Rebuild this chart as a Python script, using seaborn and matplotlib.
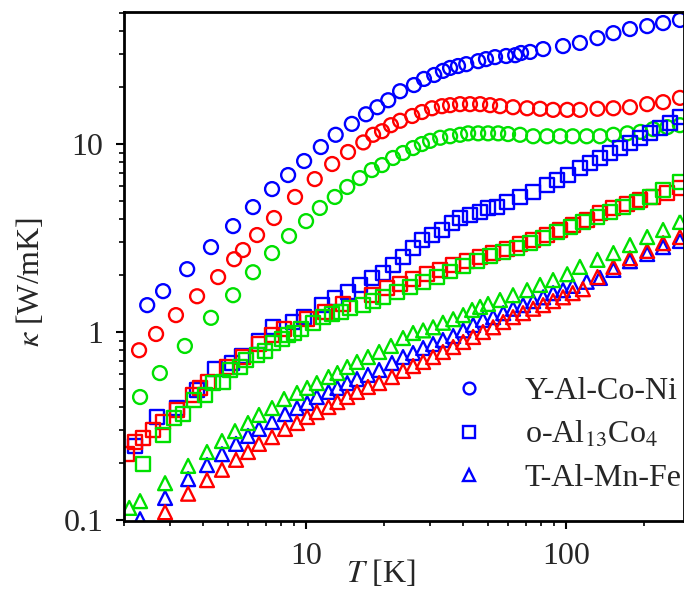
import numpy as np
import pandas as pd
import matplotlib
matplotlib.use('Agg')
import matplotlib.pyplot as plt
import matplotlib.ticker as mticker
from matplotlib.lines import Line2D
import seaborn as sns

# Thermal conductivity vs temperature, three directions (blue, red, green) per material
# Y-Al-Co-Ni (circles)
T_ycn_b = [2.45, 2.82, 3.49, 4.31, 5.24, 6.25, 7.40, 8.53, 9.83, 11.4, 13.0, 15.0, 17.0, 18.8, 20.7, 23.0,
           26.0, 28.4, 31.1, 33.6, 35.8, 38.4, 41.3, 45.9, 49.2, 53.3, 58.8, 63.7, 67.1, 72.7, 81.6,
           97.3, 113, 132, 152, 176, 205, 236, 274]
k_ycn_b = [1.39, 1.65, 2.16, 2.83, 3.66, 4.62, 5.76, 6.84, 8.12, 9.64, 11.2, 12.8, 14.4, 15.7, 17.1, 19.1,
           20.6, 22.2, 23.3, 24.5, 25.4, 26.0, 26.6, 27.6, 28.3, 29.0, 29.4, 29.7, 30.5, 30.9, 32.0,
           33.2, 34.5, 36.6, 38.9, 40.9, 42.4, 44.0, 45.7]
T_ycn_r = [2.28, 2.65, 3.16, 3.81, 4.59, 5.29, 5.72, 6.48, 7.53, 9.07, 10.8, 12.6, 14.5, 16.6, 18.1, 19.6,
           21.2, 23.0, 25.6, 27.9, 30.5, 33.3, 35.8, 39.1, 42.7, 46.7, 51.0, 55.7, 62.5, 70.8, 79.4,
           89.1, 101, 113, 132, 152, 176, 205, 236, 274]
k_ycn_r = [0.80, 0.976, 1.23, 1.55, 1.96, 2.44, 2.73, 3.28, 4.04, 5.23, 6.51, 7.83, 9.07, 10.2, 11.2, 11.7,
           12.6, 13.3, 14.1, 14.8, 15.5, 15.9, 16.1, 16.3, 16.3, 16.3, 16.1, 15.9, 15.7, 15.5, 15.4,
           15.2, 15.2, 15.2, 15.4, 15.5, 15.7, 16.3, 16.7, 17.6]
T_ycn_g = [2.30, 2.74, 3.42, 4.31, 5.24, 6.25, 7.40, 8.60, 10.0, 11.3, 12.9, 14.4, 16.1, 17.9, 19.6, 21.6,
           23.6, 25.8, 27.9, 30.0, 32.8, 35.8, 39.1, 42.0, 45.9, 50.1, 54.8, 59.8, 66.5, 74.7, 84.5,
           94.8, 106, 120, 135, 152, 172, 193, 216, 245, 274]
k_ycn_g = [0.451, 0.605, 0.843, 1.19, 1.57, 2.08, 2.63, 3.24, 3.89, 4.57, 5.23, 5.91, 6.59, 7.27, 7.73, 8.43,
           8.96, 9.52, 10.0, 10.4, 10.8, 11.0, 11.2, 11.4, 11.4, 11.4, 11.4, 11.3, 11.2, 11.0, 11.0,
           11.0, 11.0, 11.0, 11.0, 11.2, 11.4, 11.6, 12.0, 12.3, 12.6]

# o-Al13Co4 (squares)
T_alco_b = [2.20, 2.67, 3.19, 3.81, 4.47, 5.19, 5.67, 6.59, 7.47, 8.91, 9.83, 11.5, 12.9, 14.5, 16.1, 17.9,
            19.8, 21.6, 23.6, 25.8, 27.9, 30.5, 33.3, 36.5, 39.1, 42.7, 46.7, 50.1, 54.3, 59.3, 66.5,
            74.7, 84.5, 92.3, 102, 113, 124, 135, 148, 161, 176, 193, 210, 230, 251, 274]
k_alco_b = [0.248, 0.353, 0.394, 0.491, 0.636, 0.684, 0.745, 0.896, 1.06, 1.13, 1.20, 1.39, 1.52, 1.63, 1.78, 1.94,
            2.06, 2.27, 2.50, 2.80, 3.09, 3.28, 3.49, 3.80, 4.04, 4.19, 4.35, 4.57, 4.62, 4.91, 5.23,
            5.55, 6.05, 6.44, 6.84, 7.45, 7.93, 8.43, 8.96, 9.52, 10.1, 10.8, 11.4, 12.2, 12.9, 13.9]
T_alco_r = [2.05, 2.20, 2.36, 2.58, 2.82, 3.19, 3.68, 3.91, 4.20, 4.97, 5.72, 6.59, 7.40, 8.23, 10.1, 11.8,
            13.9, 17.9, 20.5, 23.0, 25.8, 29.2, 32.8, 36.8, 41.6, 46.7, 52.4, 59.3, 66.5, 74.7, 84.5,
            94.8, 106, 120, 135, 152, 172, 193, 216, 245, 274]
k_alco_r = [0.224, 0.260, 0.273, 0.301, 0.332, 0.385, 0.462, 0.504, 0.542, 0.651, 0.736, 0.863, 0.964, 1.04, 1.17, 1.28,
            1.41, 1.57, 1.71, 1.80, 1.91, 2.03, 2.14, 2.27, 2.39, 2.50, 2.63, 2.76, 2.94, 3.09, 3.28,
            3.49, 3.71, 3.94, 4.30, 4.57, 4.80, 5.04, 5.23, 5.49, 5.83]
T_alco_g = [2.36, 2.82, 3.11, 3.37, 3.71, 4.09, 4.39, 4.79, 5.10, 5.57, 5.88, 6.48, 6.95, 7.47, 8.08, 8.53,
            8.99, 9.57, 10.6, 11.6, 12.6, 13.6, 14.8, 16.6, 18.1, 19.8, 22.4, 25.1, 28.2, 31.9, 35.8,
            40.2, 45.5, 51.0, 57.3, 64.8, 72.7, 81.6, 92.3, 104, 116, 132, 148, 166, 188, 210, 236, 274]
k_alco_g = [0.199, 0.283, 0.349, 0.366, 0.435, 0.462, 0.535, 0.542, 0.628, 0.651, 0.710, 0.755, 0.792, 0.874, 0.918, 0.964,
            0.988, 1.04, 1.12, 1.20, 1.25, 1.28, 1.34, 1.39, 1.46, 1.53, 1.63, 1.74, 1.85, 1.96, 2.10,
            2.25, 2.38, 2.54, 2.66, 2.80, 2.97, 3.16, 3.40, 3.62, 3.85, 4.09, 4.35, 4.62, 4.91, 5.23, 5.69, 6.28]

# T-Al-Mn-Fe (triangles)
T_tamf_b = [2.30, 2.87, 3.52, 4.16, 4.75, 5.38, 5.98, 6.59, 7.40, 8.30, 9.23, 10.1, 11.0, 12.2, 13.2, 14.4,
            15.7, 17.3, 19.1, 21.4, 23.6, 25.8, 28.2, 30.8, 33.6, 36.8, 40.2, 43.9, 47.9, 52.4, 57.3,
            62.5, 68.3, 74.7, 81.6, 89.1, 97.3, 106, 120, 135, 152, 176, 205, 236, 274]
k_tamf_b = [0.101, 0.131, 0.165, 0.196, 0.224, 0.254, 0.280, 0.305, 0.332, 0.366, 0.394, 0.419, 0.451, 0.480, 0.504, 0.535,
            0.562, 0.591, 0.628, 0.684, 0.736, 0.773, 0.822, 0.863, 0.907, 0.952, 1.02, 1.09, 1.16, 1.20, 1.26,
            1.33, 1.39, 1.46, 1.53, 1.61, 1.67, 1.76, 1.85, 1.94, 2.14, 2.38, 2.60, 2.83, 3.05]
T_tamf_r = [2.87, 3.52, 4.16, 4.75, 5.38, 5.98, 6.59, 7.40, 8.30, 9.23, 10.1, 11.0, 12.2, 13.2, 14.4, 15.7,
            17.3, 19.1, 21.4, 23.6, 25.8, 28.2, 30.8, 33.6, 36.8, 40.2, 43.9, 47.9, 52.4, 57.3, 62.5,
            68.3, 74.7, 81.6, 89.1, 97.3, 106, 116, 132, 152, 176, 205, 236, 274]
k_tamf_r = [0.110, 0.138, 0.163, 0.185, 0.209, 0.230, 0.254, 0.276, 0.305, 0.328, 0.353, 0.375, 0.399, 0.424, 0.451, 0.480,
            0.510, 0.535, 0.576, 0.621, 0.659, 0.693, 0.736, 0.783, 0.832, 0.885, 0.941, 1.00, 1.06, 1.13, 1.20,
            1.26, 1.33, 1.39, 1.46, 1.53, 1.61, 1.69, 1.96, 2.22, 2.47, 2.70, 2.97, 3.20]
T_tamf_g = [2.09, 2.30, 2.87, 3.52, 4.16, 4.75, 5.33, 5.98, 6.59, 7.40, 8.23, 9.23, 10.1, 11.0, 12.2, 13.2,
            14.4, 15.7, 17.3, 19.1, 21.2, 23.6, 25.8, 28.2, 30.8, 33.6, 36.8, 40.2, 43.5, 46.7, 50.1,
            55.7, 62.5, 70.8, 79.4, 89.1, 101, 113, 132, 152, 176, 205, 236, 274]
k_tamf_g = [0.116, 0.126, 0.157, 0.194, 0.230, 0.263, 0.297, 0.328, 0.362, 0.394, 0.440, 0.474, 0.504, 0.535, 0.576, 0.605,
            0.651, 0.693, 0.736, 0.783, 0.843, 0.929, 0.988, 1.02, 1.06, 1.12, 1.17, 1.23, 1.31, 1.36, 1.41,
            1.48, 1.57, 1.67, 1.78, 1.89, 2.03, 2.22, 2.42, 2.63, 2.90, 3.20, 3.49, 3.85]

materials = ['Y-Al-Co-Ni', r'o-Al$_{13}$Co$_{4}$', 'T-Al-Mn-Fe']
markers = {'Y-Al-Co-Ni': 'o', r'o-Al$_{13}$Co$_{4}$': 's', 'T-Al-Mn-Fe': '^'}
colors = {'b': '#0000ff', 'r': '#ff0000', 'g': '#00e000'}

series = [
    ('Y-Al-Co-Ni', 'b', T_ycn_b, k_ycn_b), ('Y-Al-Co-Ni', 'r', T_ycn_r, k_ycn_r), ('Y-Al-Co-Ni', 'g', T_ycn_g, k_ycn_g),
    (materials[1], 'b', T_alco_b, k_alco_b), (materials[1], 'r', T_alco_r, k_alco_r), (materials[1], 'g', T_alco_g, k_alco_g),
    ('T-Al-Mn-Fe', 'b', T_tamf_b, k_tamf_b), ('T-Al-Mn-Fe', 'r', T_tamf_r, k_tamf_r), ('T-Al-Mn-Fe', 'g', T_tamf_g, k_tamf_g),
]
df = pd.concat([pd.DataFrame({'T': t, 'kappa': k, 'material': m, 'dir': d}) for m, d, t, k in series],
               ignore_index=True)

sns.set_style('ticks')
plt.rcParams['font.family'] = ['Liberation Serif', 'DejaVu Serif']
plt.rcParams['mathtext.fontset'] = 'stix'
fs = 23

fig = plt.figure(figsize=(6.84, 5.94), dpi=100)
ax = fig.add_axes([124 / 684, 73 / 594, 560 / 684, 509 / 594])

for (m, d), sub in df.groupby(['material', 'dir'], sort=False):
    sns.scatterplot(data=sub, x='T', y='kappa', marker=markers[m], s=100, color=colors[d],
                    facecolor='none', edgecolor=colors[d], linewidth=1.7, ax=ax, legend=False)

ax.set_xscale('log')
ax.set_yscale('log')
ax.set_xlim(1.995, 284)
ax.set_ylim(0.0988, 50.4)

fmt = mticker.FuncFormatter(lambda v, _: f'{v:g}')
ax.xaxis.set_major_formatter(fmt)
ax.yaxis.set_major_formatter(fmt)
ax.xaxis.set_minor_formatter(mticker.NullFormatter())
ax.yaxis.set_minor_formatter(mticker.NullFormatter())
ax.tick_params(which='major', direction='out', length=6, width=1.5, labelsize=fs, pad=9, color='k')
ax.tick_params(which='minor', direction='out', length=3.5, width=1.2, color='k')
ax.tick_params(top=False, right=False, which='both')
for side in ['left', 'bottom', 'top', 'right']:
    ax.spines[side].set_linewidth(2)
    ax.spines[side].set_color('k')

ax.set_xlabel(r'$T$ [K]', fontsize=fs)
ax.set_ylabel(r'$\kappa$ [W/mK]', fontsize=fs)
ax.xaxis.set_label_coords((381 - 124) / 560, -0.072)
ax.yaxis.set_label_coords(-0.14, 0.47)

handles = [Line2D([], [], linestyle='none', marker=markers[m], markersize=8.5, markerfacecolor='none',
                  markeredgecolor=colors['b'], markeredgewidth=1.7) for m in materials]
ax.legend(handles, materials, loc='upper left', bbox_to_anchor=(453 / 684, 217 / 594),
          bbox_transform=fig.transFigure, frameon=False, fontsize=fs, handlelength=1.0,
          handletextpad=1.25, labelspacing=0.43, borderpad=0, borderaxespad=0)

fig.savefig('out.png', dpi=100)
